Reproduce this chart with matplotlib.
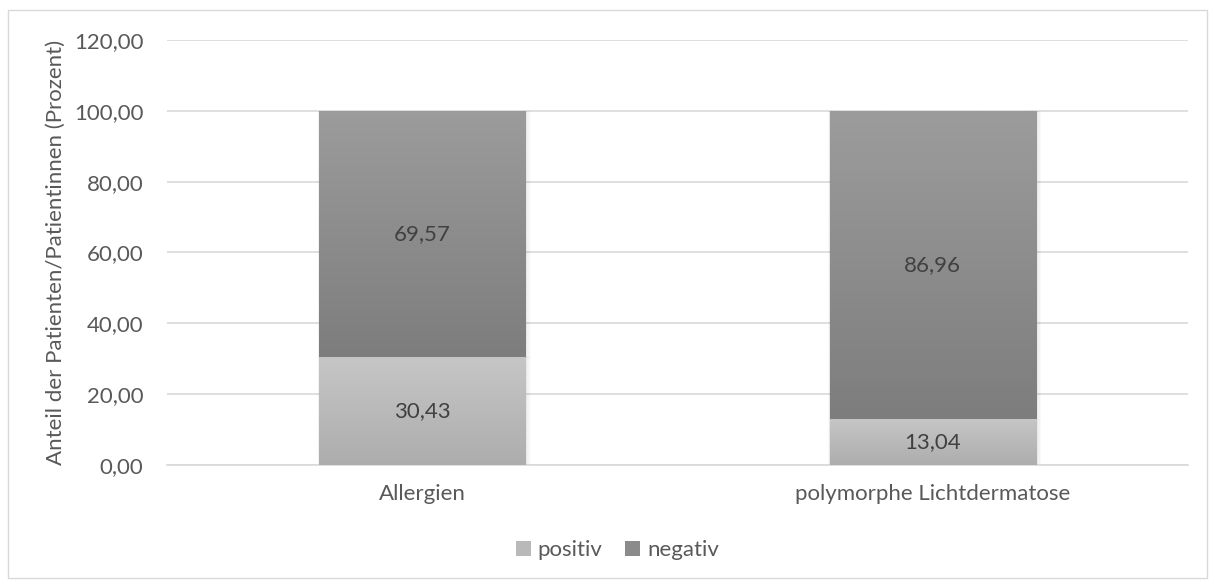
import numpy as np
import matplotlib.pyplot as plt
from matplotlib.patches import Rectangle, Patch
from matplotlib.colors import LinearSegmentedColormap

plt.rcParams['font.family'] = ['Lato', 'DejaVu Sans']

kategorien = ['Allergien', 'polymorphe Lichtdermatose']
positiv = [30.43, 13.04]
negativ = [69.57, 86.96]

txt = '#595959'
fs = 16
fig = plt.figure(figsize=(12.15, 5.84), dpi=100)
ax = fig.add_axes([0.1374, 0.2038, 0.8404, 0.7277])

x = np.arange(len(kategorien))
breite = 0.404

bars_pos = ax.bar(x, positiv, breite, color='none', edgecolor='none', zorder=3)
bars_neg = ax.bar(x, negativ, breite, bottom=positiv, color='none', edgecolor='none', zorder=3)

# Verlaufsfuellung (oben hell, unten dunkel) in die Balken legen
cm_pos = LinearSegmentedColormap.from_list('pos', ['#adadad', '#c6c6c6'])
cm_neg = LinearSegmentedColormap.from_list('neg', ['#7d7d7d', '#9c9c9c'])
verlauf = np.linspace(0, 1, 256).reshape(-1, 1)
for bars, cm in [(bars_pos, cm_pos), (bars_neg, cm_neg)]:
    for b in bars:
        x0, y0 = b.get_x(), b.get_y()
        w, h = b.get_width(), b.get_height()
        # leichter Schatten
        for k, a in enumerate([0.04, 0.03, 0.02]):
            d = 0.003 * (k + 1)
            ax.add_patch(Rectangle((x0 - d * 0.3, y0 - d * 30), w + d * 1.5, h + d * 30,
                                   color='black', alpha=a, lw=0, zorder=2))
        im = ax.imshow(verlauf, cmap=cm, origin='lower', aspect='auto',
                       extent=(x0, x0 + w, y0, y0 + h), zorder=3)
        im.set_clip_path(b)

for i in x:
    ax.text(i, positiv[i] / 2, f'{positiv[i]:.2f}'.replace('.', ','),
            ha='center', va='center', fontsize=fs, color='#404040', zorder=4)
    ax.text(i, positiv[i] + negativ[i] / 2, f'{negativ[i]:.2f}'.replace('.', ','),
            ha='center', va='center', fontsize=fs, color='#404040', zorder=4)

ax.set_xlim(-0.5, 1.5)
ax.set_ylim(0, 120)
ax.set_yticks(np.arange(0, 121, 20))
ax.set_yticklabels([f'{v:.2f}'.replace('.', ',') for v in np.arange(0, 121, 20)])
ax.set_xticks(x)
ax.set_xticklabels(kategorien)
ax.tick_params(length=0, labelsize=fs, labelcolor=txt)
ax.tick_params(axis='y', pad=17)
ax.tick_params(axis='x', pad=14)
ax.grid(axis='y', color='#d9d9d9', lw=1.2, zorder=0)
ax.set_axisbelow(True)
for s in ['top', 'right', 'left']:
    ax.spines[s].set_visible(False)
ax.spines['bottom'].set_color('#d9d9d9')
ax.spines['bottom'].set_linewidth(1.2)
ax.set_ylabel('Anteil der Patienten/Patientinnen (Prozent)', fontsize=16, color=txt, labelpad=6)

handles = [Patch(facecolor='#b9b9b9', edgecolor='none'), Patch(facecolor='#8b8b8b', edgecolor='none')]
fig.legend(handles, ['positiv', 'negativ'], loc='center', bbox_to_anchor=(0.508, 0.058),
           ncol=2, frameon=False, fontsize=fs, labelcolor=txt,
           handlelength=0.7, handleheight=0.7, handletextpad=0.3, columnspacing=1.0)

fig.patches.append(Rectangle((8 / 1215, 6 / 584), 1199 / 1215, 568 / 584, transform=fig.transFigure,
                             fill=False, edgecolor='#d9d9d9', lw=1))

fig.savefig('out.png')
